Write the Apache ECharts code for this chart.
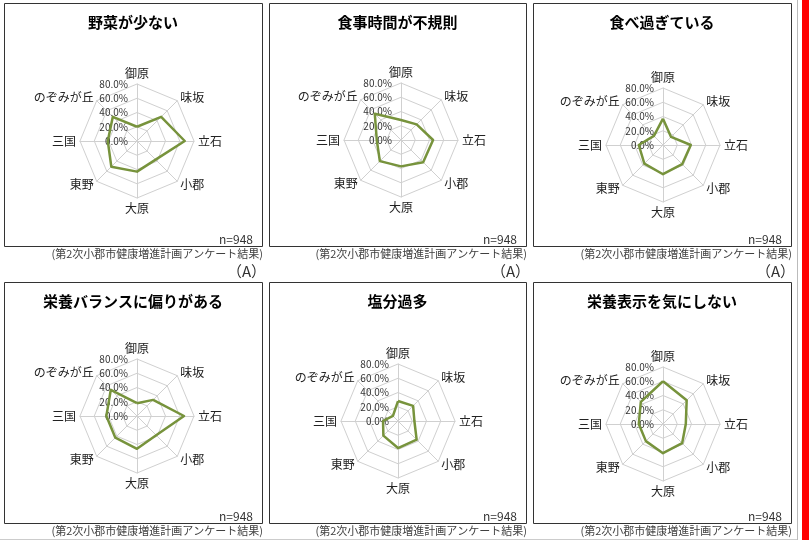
<!DOCTYPE html>
<html>
<head>
<meta charset="utf-8">
<script src="https://cdn.jsdelivr.net/npm/echarts@6/dist/echarts.min.js"></script>
<style>
html, body { margin: 0; padding: 0; background: #fff; }
#main { width: 809px; height: 540px; }
</style>
</head>
<body>
<div id="main"></div>
<script>
// 地区（御原から時計回り）
const areas = ['御原', '味坂', '立石', '小郡', '大原', '東野', '三国', 'のぞみが丘']
const titles = ['野菜が少ない', '食事時間が不規則', '食べ過ぎている', '栄養バランスに偏りがある', '塩分過多', '栄養表示を気にしない']
const yasai = [20, 48, 67, 37, 43, 51, 41, 48]
const shokuji = [28, 31, 45, 44, 37, 42, 34, 52]
const tabesugi = [37, 16, 39, 38, 41, 37, 34, 18]
const balance = [18, 32, 66, 38, 46, 43, 43, 52]
const enbun = [28, 30, 23, 37, 38, 29, 21, 10]
const hyouji = [60, 47, 32, 38, 41, 34, 34, 44]
const tickMax = 80
const sampleSize = 'n=948'
const source = '(第2次小郡市健康増進計画アンケート結果)'
const mark = '（A）'

const seriesData = [yasai, shokuji, tabesugi, balance, enbun, hyouji]

const panels = [
  { x: 4, y: 3, w: 258, h: 243, cx: 137, cy: 141 },
  { x: 269, y: 3, w: 257, h: 243, cx: 401, cy: 140 },
  { x: 533, y: 3, w: 258, h: 243, cx: 663, cy: 145 },
  { x: 4, y: 282, w: 258, h: 241, cx: 137, cy: 416 },
  { x: 269, y: 282, w: 257, h: 241, cx: 398, cy: 421 },
  { x: 533, y: 282, w: 258, h: 241, cx: 663, cy: 424 }
]

const FONT = '"Noto Sans CJK JP", "Noto Sans", sans-serif'
const GREEN = '#77933C'

// echartsは反時計回りなので並べ替える
const order = [0, 7, 6, 5, 4, 3, 2, 1]

const chart = echarts.init(document.getElementById('main'))

const radars = panels.map((p) => ({
  center: [p.cx, p.cy],
  radius: 57,
  startAngle: 90,
  splitNumber: 4,
  shape: 'polygon',
  nameGap: 4,
  axisName: { color: '#222', fontSize: 12, fontFamily: FONT },
  splitArea: { show: false },
  splitLine: { lineStyle: { color: '#d0d0d0', width: 1 } },
  axisLine: { lineStyle: { color: '#d0d0d0', width: 1 } },
  axisTick: { show: false },
  axisLabel: { show: false },
  indicator: order.map((k, i) => {
    const ind = { name: areas[k], min: 0, max: tickMax }
    if (i === 0) {
      ind.axisLabel = {
        show: true,
        color: '#333',
        fontSize: 10,
        fontFamily: FONT,
        margin: 9,
        formatter: (v) => v.toFixed(1) + '%'
      }
    }
    return ind
  })
}))

const series = seriesData.map((d, i) => ({
  type: 'radar',
  radarIndex: i,
  symbol: 'none',
  silent: true,
  lineStyle: { color: GREEN, width: 2.5 },
  data: [{ value: order.map((k) => d[k]) }]
}))

const graphic = []
panels.forEach((p, i) => {
  graphic.push({
    type: 'rect',
    shape: { x: p.x + 0.5, y: p.y + 0.5, width: p.w, height: p.h },
    style: { fill: 'none', stroke: '#333', lineWidth: 1 },
    silent: true
  })
  graphic.push({
    type: 'text',
    x: p.x + p.w / 2,
    y: p.y + 19,
    style: { text: titles[i], font: 'bold 15px ' + FONT, fill: '#000', align: 'center', verticalAlign: 'middle' }
  })
  graphic.push({
    type: 'text',
    x: p.x + p.w - 9,
    y: p.y + p.h - 7,
    style: { text: sampleSize, font: '12px ' + FONT, fill: '#333', align: 'right', verticalAlign: 'middle' }
  })
  graphic.push({
    type: 'text',
    x: p.x + p.w + 1,
    y: p.y + p.h + 8,
    style: { text: source, font: '11px ' + FONT, fill: '#404040', align: 'right', verticalAlign: 'middle' }
  })
  if (i < 3) {
    graphic.push({
      type: 'text',
      x: p.x + p.w + 4,
      y: 271,
      style: { text: mark, font: '15px ' + FONT, fill: '#333', align: 'right', verticalAlign: 'middle' }
    })
  }
})
// 右端の枠線と赤帯、下端の線
graphic.push({ type: 'line', shape: { x1: 797.5, y1: 0, x2: 797.5, y2: 540 }, style: { stroke: '#bbb', lineWidth: 1 } })
graphic.push({ type: 'rect', shape: { x: 802, y: 0, width: 7, height: 540 }, style: { fill: '#ff0000' } })
graphic.push({ type: 'line', shape: { x1: 0, y1: 539.5, x2: 797, y2: 539.5 }, style: { stroke: '#ccc', lineWidth: 1 } })

chart.setOption({
  animation: false,
  backgroundColor: '#fff',
  radar: radars,
  series: series,
  graphic: graphic
})
</script>
</body>
</html>
